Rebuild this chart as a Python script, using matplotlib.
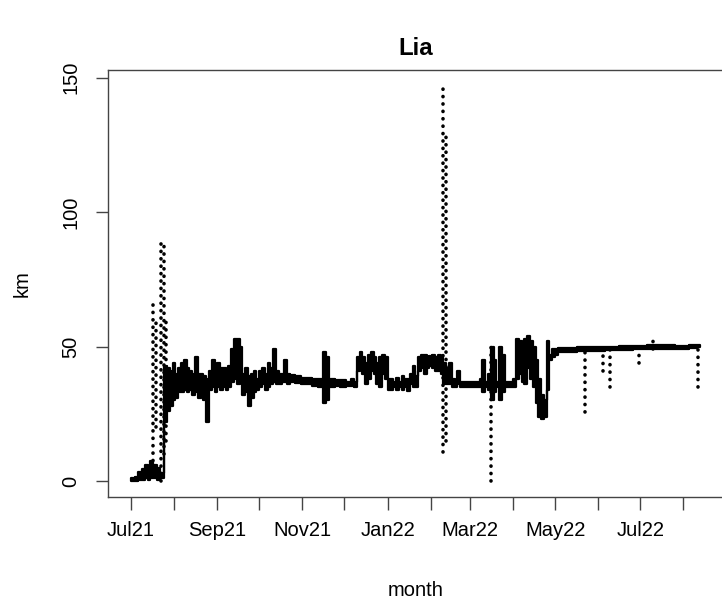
import numpy as np
import matplotlib
matplotlib.use("Agg")
import matplotlib.pyplot as plt

# ---------------- data (days since 2021-07-01, km) ----------------
start_date = "2021-07-01"
band_day = [0, 3, 5, 8, 10, 12, 14, 16, 19, 21, 24, 26, 28, 30, 32, 34, 36, 38, 40, 42,
            44, 46, 48, 50, 52, 54, 56, 58, 60, 62, 64, 66, 68, 70, 72, 74, 76, 78, 80, 82,
            84, 86, 88, 90, 92, 94, 96, 98, 100, 102, 104, 106, 108, 110, 112, 114, 118, 122, 126, 130,
            134, 138, 140, 142, 146, 150, 154, 158, 160, 162, 164, 166, 168, 170, 172, 174, 176, 178, 180, 182,
            184, 186, 188, 190, 192, 194, 196, 198, 200, 202, 204, 206, 208, 210, 212, 214, 216, 218, 220, 222,
            224, 226, 228, 230, 232, 234, 236, 240, 244, 248, 250, 252, 254, 256, 258, 260, 262, 264, 266, 268,
            270, 272, 274, 276, 278, 280, 282, 284, 286, 288, 290, 292, 294, 296, 298, 300, 302, 304, 306, 310,
            320, 330, 340, 350, 360, 370, 380, 390, 400, 406, 408]
band_lo = [0, 0, 0.5, 0.5, 1, 0.5, 1, 1, 0.5, 1, 22, 26, 28, 30, 31, 33, 33, 34, 33, 34,
           32, 33, 31, 33, 30, 22, 34, 35, 33, 35, 34, 35, 34, 35, 37, 38, 36, 37, 32, 33,
           28, 31, 33, 34, 35, 36, 34, 35, 36, 37, 36, 36, 37, 37, 36, 37, 36.5, 36, 36, 35.5,
           35, 29, 30, 35, 35.5, 35, 35.5, 35.5, 35, 41, 42, 40, 36, 38, 41, 40, 36, 35, 40, 38,
           34, 34, 35, 34, 35, 34, 35, 33.5, 36, 35, 35, 41, 42, 40, 42, 43, 42, 41, 41, 40,
           36, 36, 36, 35, 35, 36, 35, 35, 35, 35, 35, 33, 35, 34, 30, 33, 35, 30, 33, 35,
           35, 35, 35, 38, 40, 37, 36, 42, 38, 35, 29, 24, 23, 24, 34, 45, 46, 47, 48, 48,
           48.3, 48.5, 48.8, 48.8, 49, 49, 49.2, 49, 49.5, 49.8, 49.8]
band_hi = [1.2, 1.5, 3.5, 4.5, 6, 5, 7.5, 6, 5, 3, 43, 42, 41, 44, 40, 42, 44, 45, 42, 41,
           40, 46, 40, 40, 39, 38, 41, 45, 43, 44, 42, 42, 41, 43, 49, 53, 53, 50, 40, 42,
           39, 40, 41, 38, 41, 42, 40, 44, 42, 49, 41, 40, 40, 45, 40, 39.5, 39, 38.5, 38.5, 38,
           38, 48, 46, 38, 37.5, 37.5, 37, 38, 37, 46, 48, 46, 44, 47, 48, 46, 44, 46, 47, 46,
           38, 38, 37, 38.5, 37, 39, 38, 38, 40, 43, 39, 46, 47, 47, 46, 46.5, 47, 46, 47, 46,
           44, 42, 44, 38, 37, 41, 37, 37, 37, 37, 38, 45, 37, 40, 50, 45, 37, 50, 47, 37,
           37, 37, 38, 53, 52, 50, 53, 54, 52, 50, 45, 38, 32, 30, 52, 47, 49, 49, 49.5, 49.5,
           49.8, 50, 50, 50.3, 50.3, 50.5, 50.5, 50.2, 50.8, 50.8, 50.8]

spike_day = [16, 18, 22, 23.5, 25, 224, 225.5, 258, 325.7, 338, 343, 364, 374.5, 406.7]
spike_lo = [5, 20, 0, 10, 15, 11, 15, 0, 25.6, 41, 35, 44, 49, 35]
spike_hi = [66, 60, 90, 88, 60, 147, 130, 50, 49, 49, 49, 49, 53.5, 50]

month_labels = ["Jul21", "", "Sep21", "", "Nov21", "", "Jan22", "", "Mar22", "", "May22", "", "Jul22", ""]
month_starts = ["2021-07-01", "2021-08-01", "2021-09-01", "2021-10-01", "2021-11-01", "2021-12-01",
                "2022-01-01", "2022-02-01", "2022-03-01", "2022-04-01", "2022-05-01", "2022-06-01",
                "2022-07-01", "2022-08-01"]
y_ticks = [0, 50, 100, 150]

# ---------------- plot ----------------
plt.rcParams['font.family'] = ['Liberation Sans', 'DejaVu Sans']
W, H = 722, 602
fig = plt.figure(figsize=(W / 100, H / 100), dpi=100)
ax = fig.add_axes([108 / W, (H - 497) / H, (723 - 108) / W, (497 - 70) / H])

bd = np.array(band_day, dtype=float)
ax.fill_between(bd, band_lo, band_hi, step='post', color='black', linewidth=1.6, edgecolor='black')

lc = ax.vlines(spike_day, spike_lo, spike_hi, colors='black', linewidth=2.6,
               linestyles=[(0, (0.05, 2.0))])
lc.set_capstyle('round')

# axis ranges (R style 4% padding)
xmin, xmax = 0, 408
ymin, ymax = 0, 147
px = 0.04 * (xmax - xmin)
py = 0.04 * (ymax - ymin)
ax.set_xlim(xmin - px, xmax + px)
ax.set_ylim(ymin - py, ymax + py)

t0 = np.datetime64(start_date)
tick_days = [(np.datetime64(m) - t0).astype(int) for m in month_starts]
ax.set_xticks(tick_days)
ax.set_xticklabels(month_labels)
ax.set_yticks(y_ticks)
ax.set_yticklabels([str(v) for v in y_ticks], rotation=90, va='center')

for s in ax.spines.values():
    s.set_color('#444444')
    s.set_linewidth(1.0)
ax.tick_params(axis='both', length=9, width=1.0, color='#444444', labelsize=14.5, labelcolor='black')
ax.tick_params(axis='x', pad=8)
ax.tick_params(axis='y', pad=11)

ax.set_title("Lia", fontsize=17.3, fontweight='bold', pad=11)
ax.set_xlabel("month", fontsize=14.5, labelpad=30)
ax.set_ylabel("km", fontsize=14.5, labelpad=21)

fig.savefig("out.png", dpi=100)
